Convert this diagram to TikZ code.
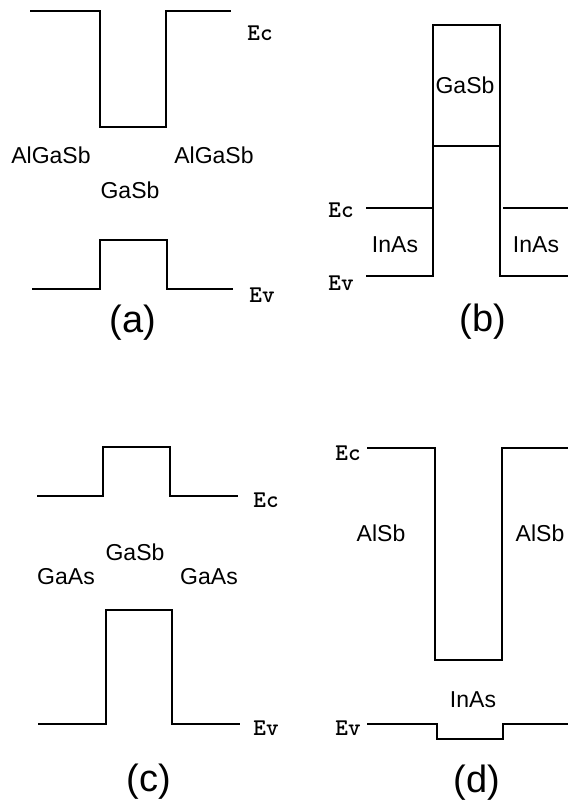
\documentclass[tikz,border=0pt]{standalone}
\usepackage{fontspec}
\newfontfamily\matfont{Liberation Sans}
\usetikzlibrary{positioning}

\begin{document}
\begin{tikzpicture}[x=1pt, y=-1pt,
    band/.style={line width=2.8pt, line join=miter},
    mat/.style={font=\matfont\fontsize{23}{23}\selectfont, inner sep=0pt},
    lvl/.style={font=\ttfamily\bfseries\fontsize{24}{24}\selectfont, inner sep=0pt},
    tag/.style={font=\matfont\fontsize{38}{38}\selectfont, inner sep=0pt}]
    \useasboundingbox (0,0) rectangle (568,808);

    % (a) AlGaSb/GaSb/AlGaSb
    \draw[band] (30,11) -| (100,127) -| (166,11) -- (231,11);
    \draw[band] (32,289) -| (100,240) -| (167,289) -- (233,289);
    \node[lvl] (ecA) at (260,33) {Ec};
    \node[lvl] (evA) at (262,295) {Ev};
    \node[mat] (barLA) at (51,155) {AlGaSb};
    \node[mat] (barRA) at (214,155) {AlGaSb};
    \node[mat] (wellA) at (130,190) {GaSb};
    \node[tag] (tagA) at (133,323) {(a)};

    % (b) InAs/GaSb/InAs
    \draw[band] (366,208) -- (433,208);
    \draw[band] (366,276) -| (433,25) -| (500,276) -- (568,276);
    \draw[band] (433,146) -- (500,146);
    \draw[band] (503,208) -- (568,208);
    \node[lvl] (ecB) at (341,210) {Ec};
    \node[lvl] (evB) at (341,283) {Ev};
    \node[mat] (wellB) at (465,85) {GaSb};
    \node[mat] (barLB) at (395,245) {InAs};
    \node[mat] (barRB) at (536,245) {InAs};
    \node[tag] (tagB) at (483,322) {(b)};

    % (c) GaAs/GaSb/GaAs
    \draw[band] (37,496) -| (103,447) -| (170,496) -- (238,496);
    \draw[band] (38,724) -| (106,610) -| (172,724) -- (240,724);
    \node[lvl] (ecC) at (266,500) {Ec};
    \node[lvl] (evC) at (266,728) {Ev};
    \node[mat] (wellC) at (135,552) {GaSb};
    \node[mat] (barLC) at (66,577) {GaAs};
    \node[mat] (barRC) at (209,577) {GaAs};
    \node[tag] (tagC) at (149,782) {(c)};

    % (d) AlSb/InAs/AlSb
    \draw[band] (367,448) -| (435,660) -| (502,448) -- (568,448);
    \draw[band] (367,724) -| (437,739) -| (503,724) -- (568,724);
    \node[lvl] (ecD) at (348,453) {Ec};
    \node[lvl] (evD) at (348,728) {Ev};
    \node[mat] (barLD) at (381,533) {AlSb};
    \node[mat] (barRD) at (540,533) {AlSb};
    \node[mat] (wellD) at (473,700) {InAs};
    \node[tag] (tagD) at (477,783) {(d)};
\end{tikzpicture}
\end{document}
